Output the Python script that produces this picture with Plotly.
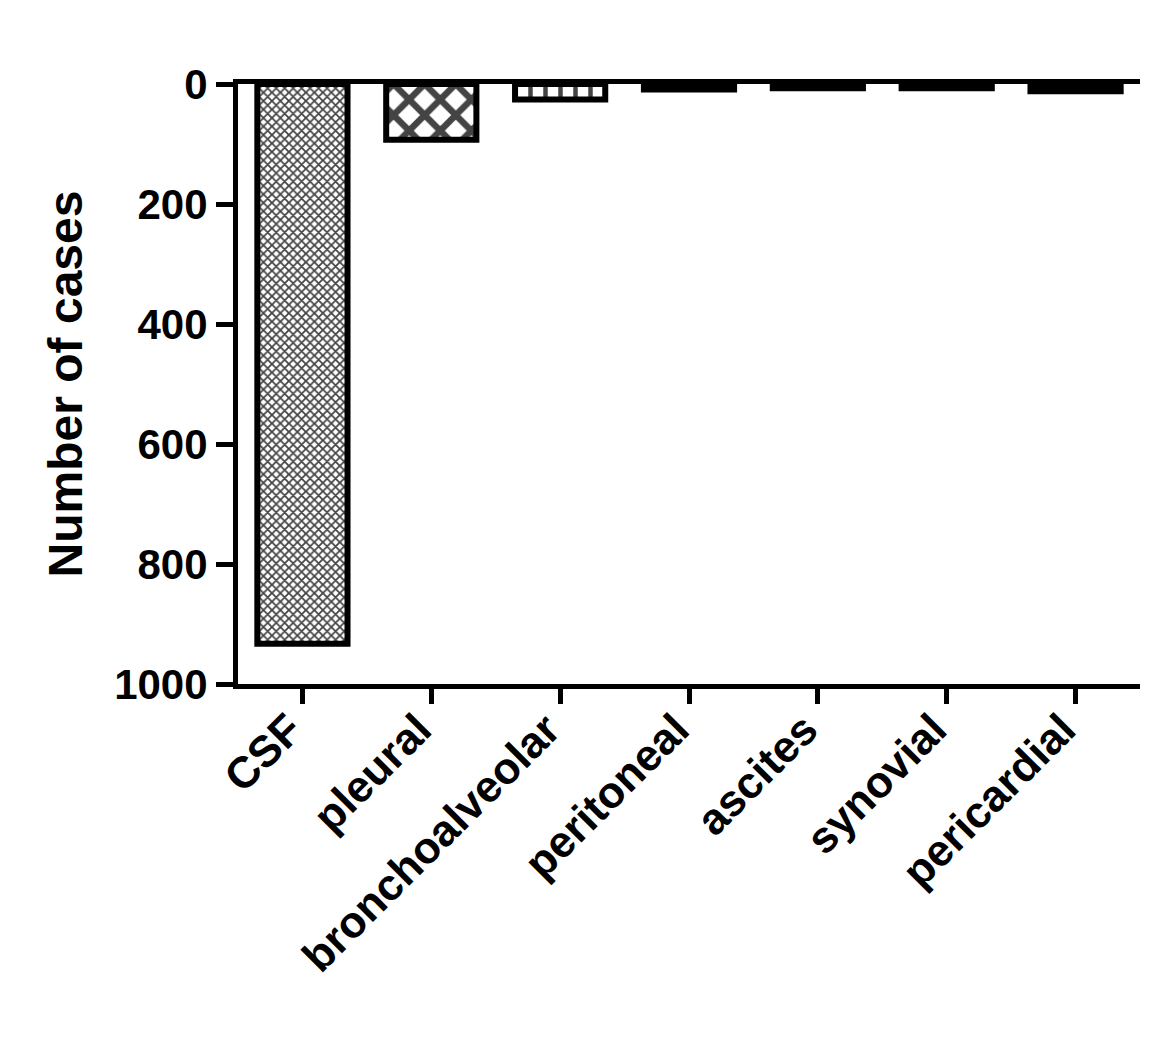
import plotly.graph_objects as go

# Data
categories = ["CSF", "pleural", "bronchoalveolar", "peritoneal", "ascites", "synovial", "pericardial"]
cases = [933, 93, 26, 9, 7, 7, 12]
y_ticks = [0, 200, 400, 600, 800, 1000]

# Styles (per bar)
bar_colors = ["white", "white", "white", "black", "black", "black", "black"]
pat_shapes = ["x", "x", "|", "", "", "", ""]
pat_fg = ["black", "black", "black", "black", "black", "black", "black"]
pat_size = [6, 22, 15, 8, 8, 8, 8]
pat_solid = [0.5, 0.5, 0.3, 0.5, 0.5, 0.5, 0.5]

FONT = "Liberation Sans, Arial, Helvetica, sans-serif"

fig = go.Figure()
fig.add_trace(go.Bar(
    x=categories,
    y=cases,
    width=0.7,
    marker=dict(
        color=bar_colors,
        line=dict(color="black", width=6),
        pattern=dict(shape=pat_shapes, fgcolor=pat_fg, size=pat_size,
                     solidity=pat_solid, fillmode="overlay", fgopacity=1),
    ),
    showlegend=False,
))

fig.update_layout(
    width=1159,
    height=1031,
    margin=dict(l=230, r=27, t=76, b=355),
    paper_bgcolor="white",
    plot_bgcolor="white",
    font=dict(family=FONT, color="black"),
    xaxis=dict(
        range=[-0.5, 6.5],
        showline=True, linecolor="black", linewidth=5, mirror=True,
        ticks="outside", ticklen=15, tickwidth=5, tickcolor="black",
        tickangle=-45,
        ticklabelshift=-13,
        ticklabelstandoff=-18,
        tickfont=dict(family=FONT, size=44, weight="bold", color="black"),
        showgrid=False, zeroline=False,
    ),
    yaxis=dict(
        range=[1000, 0],
        tickvals=y_ticks,
        showline=True, linecolor="black", linewidth=5,
        ticks="outside", ticklen=17, tickwidth=5, tickcolor="black",
        tickfont=dict(family=FONT, size=42, weight="bold", color="black"),
        showgrid=False, zeroline=False,
        title=dict(text="Number of cases", standoff=18,
                   font=dict(family=FONT, size=48, weight="bold", color="black")),
    ),
)

fig.write_html("out.html")
